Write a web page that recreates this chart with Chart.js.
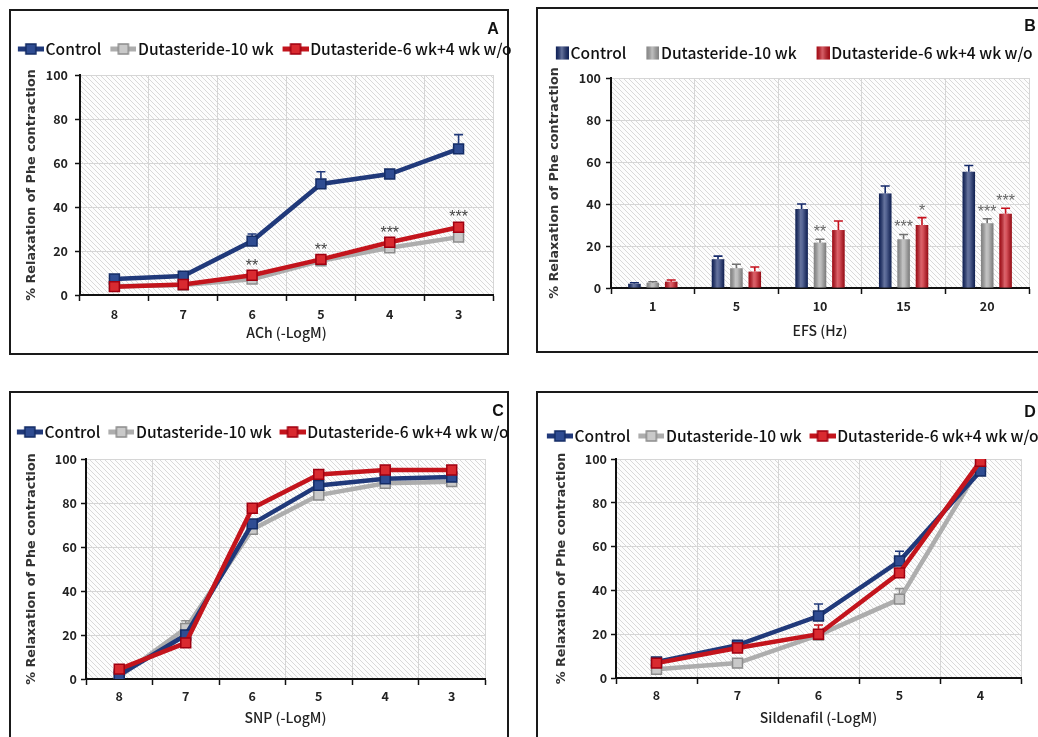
<!DOCTYPE html>
<html><head><meta charset="utf-8">
<script src="https://cdn.jsdelivr.net/npm/chart.js@4.4.1/dist/chart.umd.min.js"></script>
<style>
html,body{margin:0;padding:0;background:#fff;}
body{width:1038px;height:737px;overflow:hidden;position:relative;}
.frame{position:absolute;border:2px solid #1a1a1a;box-sizing:border-box;}
canvas{position:absolute;left:0;top:0;}
</style></head><body>
<div class="frame" style="left:9px;top:9px;width:500px;height:346px"></div>
<div class="frame" style="left:536px;top:7px;width:530px;height:346px"></div>
<div class="frame" style="left:9px;top:391px;width:500px;height:360px"></div>
<div class="frame" style="left:536px;top:391px;width:530px;height:360px"></div>
<canvas id="cA" width="1200" height="737"></canvas>
<canvas id="cB" width="1200" height="737"></canvas>
<canvas id="cC" width="1200" height="737"></canvas>
<canvas id="cD" width="1200" height="737"></canvas>
<script>
// ---------------- DATA ----------------
const seriesNames = ['Control', 'Dutasteride-10 wk', 'Dutasteride-6 wk+4 wk w/o'];
const yTitle = '% Relaxation of Phe contraction';
const yTickValues = [0, 20, 40, 60, 80, 100];

// Panel A: ACh
const achDoses = ['8', '7', '6', '5', '4', '3'];
const achControl = [7.3, 8.6, 24.5, 50.5, 55.0, 66.4];
const achControlErr = [1.0, 1.0, 3.2, 5.5, 1.5, 6.5];
const achDut10 = [4.0, 4.5, 7.2, 15.5, 21.5, 26.3];
const achDut10Err = [0.5, 0.5, 1.0, 1.0, 1.2, 1.5];
const achDut6w4 = [3.8, 4.8, 9.0, 16.2, 24.0, 30.8];
const achDut6w4Err = [0.5, 0.5, 1.5, 1.5, 1.5, 2.0];
const achStars = ['', '', '**', '**', '***', '***'];

// Panel B: EFS
const efsFreq = ['1', '5', '10', '15', '20'];
const efsControl = [2.0, 13.7, 37.6, 45.0, 55.3];
const efsControlErr = [0.5, 1.5, 2.4, 3.6, 3.0];
const efsDut10 = [2.5, 9.4, 21.6, 23.2, 30.8];
const efsDut10Err = [0.5, 1.9, 1.6, 2.3, 2.2];
const efsDut6w4 = [3.0, 7.8, 27.6, 30.0, 35.3];
const efsDut6w4Err = [0.8, 2.2, 4.3, 3.5, 2.7];
const efsStarsDut10 = ['', '', '**', '***', '***'];
const efsStarsDut6w4 = ['', '', '', '*', '***'];

// Panel C: SNP
const snpDoses = ['8', '7', '6', '5', '4', '3'];
const snpControl = [1.8, 20.0, 70.5, 88.0, 91.0, 91.8];
const snpControlErr = [0.5, 1.5, 2.0, 1.5, 1.0, 1.0];
const snpDut10 = [1.0, 23.0, 68.0, 83.6, 89.0, 89.7];
const snpDut10Err = [0.5, 3.5, 1.5, 1.5, 1.0, 1.0];
const snpDut6w4 = [4.5, 16.4, 77.6, 93.0, 95.0, 95.0];
const snpDut6w4Err = [0.5, 1.5, 1.5, 1.0, 1.0, 1.0];

// Panel D: Sildenafil
const silDoses = ['8', '7', '6', '5', '4'];
const silControl = [7.3, 15.0, 28.3, 53.4, 94.5];
const silControlErr = [1.0, 1.0, 5.5, 4.5, 1.5];
const silDut10 = [4.0, 6.8, 19.6, 36.0, 97.0];
const silDut10Err = [0.5, 1.0, 1.0, 4.8, 1.0];
const silDut6w4 = [6.8, 13.7, 20.0, 48.0, 99.0];
const silDut6w4Err = [1.0, 1.0, 4.2, 2.0, 1.0];

// ---------------- STYLE / LAYOUT ----------------
const W = 1200, H = 737;
const CAL = "'Noto Sans CJK SC','Lato',sans-serif";
const LEG_WEIGHT = '500';
function fitFontSize(family, text, targetWidth, weight) {
  const c = document.createElement('canvas').getContext('2d');
  c.font = weight + ' 100px ' + family;
  return Math.round(1000 * targetWidth / c.measureText(text).width) / 10;
}
const LEG_FS = fitFontSize(CAL, 'Dutasteride-6 wk+4 wk w/o', 201, LEG_WEIGHT);
const MARK_GAP = 1.5;

const LINE_STYLE = [
  {line: '#20397a', fill: '#2f4c92', border: '#142c66', err: '#20397a'},
  {line: '#adadad', fill: '#c9c9c9', border: '#8c8c8c', err: '#8c8c8c'},
  {line: '#c3141c', fill: '#d92a30', border: '#a00010', err: '#c3141c'}
];
const BAR_STYLE = ['#14296a', '#a2a2a2', '#c6101c'];
const BAR_ERR = ['#14296a', '#707070', '#c6101c'];

const GEO_A = {left: 80, top: 75, right: 493, bottom: 295, yTitleX: 32, yTickPad: 7, xTickPad: 6, xTitleY: 333, legendY: 49, legendFirst: 18, legendGap: 9, marker: 26, letter: {text: 'A', x: 493, y: 30}, starGap: 10, starColor: '#444'};
const GEO_B = {left: 611, top: 78, right: 1029, bottom: 288, yTitleX: 555, yTickPad: 5, xTickPad: 5, xTitleY: 331, legendY: 53, legendFirst: 556, legendGap: 20, marker: 13, letter: {text: 'B', x: 1030, y: 27}, starGap: 11, starColor: '#666'};
const GEO_C = {left: 86, top: 459, right: 485, bottom: 679, yTitleX: 32, yTickPad: 4, xTickPad: 4, xTitleY: 718, legendY: 432, legendFirst: 17, legendGap: 8, marker: 26, letter: {text: 'C', x: 498, y: 412}, starGap: 10, starColor: '#444'};
const GEO_D = {left: 616, top: 459, right: 1021, bottom: 678, yTitleX: 562, yTickPad: 4, xTickPad: 4, xTitleY: 718, legendY: 436, legendFirst: 547, legendGap: 8, marker: 26, letter: {text: 'D', x: 1030, y: 413}, starGap: 10, starColor: '#444'};

function hatchTile() {
  const c = document.createElement('canvas'); c.width = 5; c.height = 5;
  const g = c.getContext('2d');
  g.fillStyle = '#fdfdfd'; g.fillRect(0, 0, 5, 5);
  g.strokeStyle = '#d9d9d9'; g.lineWidth = 1;
  g.beginPath();
  g.moveTo(-1, -1); g.lineTo(6, 6);
  g.moveTo(-1, 4); g.lineTo(1, 6);
  g.moveTo(4, -1); g.lineTo(6, 1);
  g.stroke();
  return c;
}
const HATCH = hatchTile();

// legend marker sizing: item box width p, image width p + fs - 2*gap, marker at right end
function boxWidthFor(g) { return g.legendGap + g.marker + MARK_GAP - LEG_FS / 2; }
function markerCanvas(p) {
  const c = document.createElement('canvas');
  c.width = Math.round(p + LEG_FS - 2 * MARK_GAP); c.height = 14;
  return c;
}
function lineMarker(st, p) {
  const c = markerCanvas(p), w = c.width;
  const g = c.getContext('2d');
  g.strokeStyle = st.line; g.lineWidth = 5;
  g.beginPath(); g.moveTo(w - 26, 7); g.lineTo(w, 7); g.stroke();
  g.fillStyle = st.fill; g.fillRect(w - 18, 2, 10, 10);
  g.strokeStyle = st.border; g.lineWidth = 1.5; g.strokeRect(w - 18, 2, 10, 10);
  return c;
}
function boxMarker(color, p) {
  const c = markerCanvas(p), w = c.width;
  const g = c.getContext('2d');
  g.fillStyle = color; g.fillRect(w - 13, 0.5, 13, 13);
  const gr = g.createLinearGradient(w - 13, 0, w, 0);
  gr.addColorStop(0, 'rgba(0,0,0,0.15)'); gr.addColorStop(0.45, 'rgba(255,255,255,0.35)'); gr.addColorStop(1, 'rgba(0,0,0,0.2)');
  g.fillStyle = gr; g.fillRect(w - 13, 0.5, 13, 13);
  return c;
}

const hatchPlugin = {
  id: 'hatch',
  beforeDraw(chart) {
    const {ctx, chartArea: a} = chart; if (!a) return;
    ctx.save();
    ctx.fillStyle = ctx.createPattern(HATCH, 'repeat');
    ctx.fillRect(a.left, a.top, a.right - a.left, a.bottom - a.top);
    ctx.restore();
  }
};
const barShadePlugin = {
  id: 'barShade',
  afterDatasetDraw(chart, args) {
    const meta = args.meta; if (meta.type !== 'bar') return;
    const ctx = chart.ctx;
    meta.data.forEach(el => {
      const {x, y, base, width} = el.getProps(['x', 'y', 'base', 'width'], true);
      const l = x - width / 2;
      const g = ctx.createLinearGradient(l, 0, l + width, 0);
      g.addColorStop(0, 'rgba(0,0,0,0.2)');
      g.addColorStop(0.42, 'rgba(255,255,255,0.35)');
      g.addColorStop(0.58, 'rgba(255,255,255,0.28)');
      g.addColorStop(1, 'rgba(0,0,0,0.25)');
      ctx.save(); ctx.fillStyle = g; ctx.fillRect(l, y, width, base - y); ctx.restore();
    });
  }
};
const annotPlugin = {
  id: 'annot',
  afterDatasetsDraw(chart, args, opts) {
    const ctx = chart.ctx, ys = chart.scales.y;
    chart.data.datasets.forEach((ds, i) => {
      const meta = chart.getDatasetMeta(i);
      const isBar = meta.type === 'bar';
      meta.data.forEach((el, j) => {
        const v = ds.data[j];
        const e = ds.errors ? ds.errors[j] : 0;
        const py = ys.getPixelForValue(v), pt = ys.getPixelForValue(v + e);
        if (e && (py - pt) > (isBar ? 0 : 5.5)) {
          ctx.save(); ctx.strokeStyle = ds.errorColor; ctx.lineWidth = 1.6;
          ctx.beginPath();
          ctx.moveTo(el.x, isBar ? py : py - 5); ctx.lineTo(el.x, pt);
          ctx.moveTo(el.x - 4.5, pt); ctx.lineTo(el.x + 4.5, pt);
          ctx.stroke(); ctx.restore();
        }
        if (ds.stars && ds.stars[j]) {
          ctx.save(); ctx.fillStyle = opts.starColor;
          ctx.font = '16px "Liberation Sans", Arial, sans-serif';
          ctx.textAlign = 'center'; ctx.textBaseline = 'alphabetic';
          ctx.fillText(ds.stars[j], el.x, pt - opts.starGap + 9);
          ctx.restore();
        }
      });
    });
  }
};
const letterPlugin = {
  id: 'panelLetter',
  afterDraw(chart, args, o) {
    if (!o || !o.text) return;
    const ctx = chart.ctx; ctx.save();
    ctx.font = 'bold 16px "Liberation Sans", Arial, sans-serif';
    ctx.fillStyle = '#111'; ctx.textAlign = 'center'; ctx.textBaseline = 'middle';
    ctx.fillText(o.text, o.x, o.y); ctx.restore();
  }
};

function makeOptions(g, xTitle, markers) {
  const spacer = g.top - g.legendY - LEG_FS / 2 - 10;
  return {
    responsive: false, animation: false, devicePixelRatio: 1, events: [],
    layout: {padding: {left: g.legendFirst - g.legendGap, top: 0, right: 0, bottom: 0}},
    plugins: {
      legend: {
        position: 'top', align: 'start',
        labels: {
          usePointStyle: true, pointStyleWidth: boxWidthFor(g), padding: 0,
          font: {family: CAL, size: LEG_FS, weight: LEG_WEIGHT}, color: '#111',
          sort: (a, b) => a.datasetIndex - b.datasetIndex,
          generateLabels: ch => Chart.defaults.plugins.legend.labels.generateLabels(ch)
            .map(it => Object.assign(it, {pointStyle: markers[it.datasetIndex]}))
        }
      },
      title: {display: true, text: '', weight: 500, padding: 0, font: {size: Math.max(spacer, 0.5), lineHeight: 1}},
      tooltip: {enabled: false},
      panelLetter: g.letter,
      annot: {starGap: g.starGap, starColor: g.starColor}
    },
    scales: {
      x: {
        offset: true,
        grid: {offset: true, color: '#d6d6d6', lineWidth: 1, tickColor: '#111', tickLength: 6, tickWidth: 1.5},
        border: {display: true, color: '#111', width: 2},
        ticks: {font: {family: CAL, size: 12.5, weight: 'bold'}, color: '#222', padding: g.xTickPad, maxRotation: 0, autoSkip: false},
        title: {display: true, text: xTitle, font: {family: CAL, size: 14, weight: LEG_WEIGHT}, color: '#222', padding: {top: 0, bottom: H - g.xTitleY - 8.4}},
        afterFit: s => { s.height = H - g.bottom; s.paddingLeft = g.left; s.paddingRight = W - g.right; }
      },
      y: {
        min: 0, max: 100,
        afterBuildTicks: s => { s.ticks = yTickValues.map(v => ({value: v})); },
        ticks: {font: {family: CAL, size: 12.5, weight: 'bold'}, color: '#222', padding: g.yTickPad},
        grid: {color: '#d6d6d6', lineWidth: 1, tickColor: '#111', tickLength: 5, tickWidth: 1.5},
        border: {display: true, color: '#111', width: 2},
        title: {display: true, text: yTitle, font: {family: "'DejaVu Sans',Verdana,sans-serif", size: 12.8, weight: 'bold'}, color: '#333', padding: {top: 2, bottom: 0}},
        afterFit: s => { s.width = g.left - (g.yTitleX - 7.7 - 2); s.paddingTop = g.top; }
      }
    }
  };
}

function buildLine(id, g, labels, sets, xTitle) {
  const orders = [1, 2, 0];
  const datasets = sets.map((s, i) => ({
    label: seriesNames[i], data: s.data, errors: s.err, stars: s.stars, errorColor: LINE_STYLE[i].err,
    borderColor: LINE_STYLE[i].line, backgroundColor: LINE_STYLE[i].line, borderWidth: 4.5,
    pointStyle: 'rect', pointRadius: 7, pointBackgroundColor: LINE_STYLE[i].fill,
    pointBorderColor: LINE_STYLE[i].border, pointBorderWidth: 1.5, tension: 0, fill: false, order: orders[i]
  }));
  const markers = LINE_STYLE.map(st => lineMarker(st, boxWidthFor(g)));
  new Chart(document.getElementById(id), {
    type: 'line', data: {labels, datasets},
    options: makeOptions(g, xTitle, markers),
    plugins: [hatchPlugin, annotPlugin, letterPlugin]
  });
}

function buildBar(id, g, labels, sets, xTitle) {
  const datasets = sets.map((s, i) => ({
    label: seriesNames[i], data: s.data, errors: s.err, stars: s.stars, errorColor: BAR_ERR[i],
    backgroundColor: BAR_STYLE[i], borderWidth: 0, categoryPercentage: 0.66, barPercentage: 0.68
  }));
  const markers = BAR_STYLE.map(c => boxMarker(c, boxWidthFor(g)));
  new Chart(document.getElementById(id), {
    type: 'bar', data: {labels, datasets},
    options: makeOptions(g, xTitle, markers),
    plugins: [hatchPlugin, barShadePlugin, annotPlugin, letterPlugin]
  });
}

buildLine('cA', GEO_A, achDoses, [
  {data: achControl, err: achControlErr},
  {data: achDut10, err: achDut10Err},
  {data: achDut6w4, err: achDut6w4Err, stars: achStars}
], 'ACh (-LogM)');

buildBar('cB', GEO_B, efsFreq, [
  {data: efsControl, err: efsControlErr},
  {data: efsDut10, err: efsDut10Err, stars: efsStarsDut10},
  {data: efsDut6w4, err: efsDut6w4Err, stars: efsStarsDut6w4}
], 'EFS (Hz)');

buildLine('cC', GEO_C, snpDoses, [
  {data: snpControl, err: snpControlErr},
  {data: snpDut10, err: snpDut10Err},
  {data: snpDut6w4, err: snpDut6w4Err}
], 'SNP (-LogM)');

buildLine('cD', GEO_D, silDoses, [
  {data: silControl, err: silControlErr},
  {data: silDut10, err: silDut10Err},
  {data: silDut6w4, err: silDut6w4Err}
], 'Sildenafil (-LogM)');
</script>
</body></html>
